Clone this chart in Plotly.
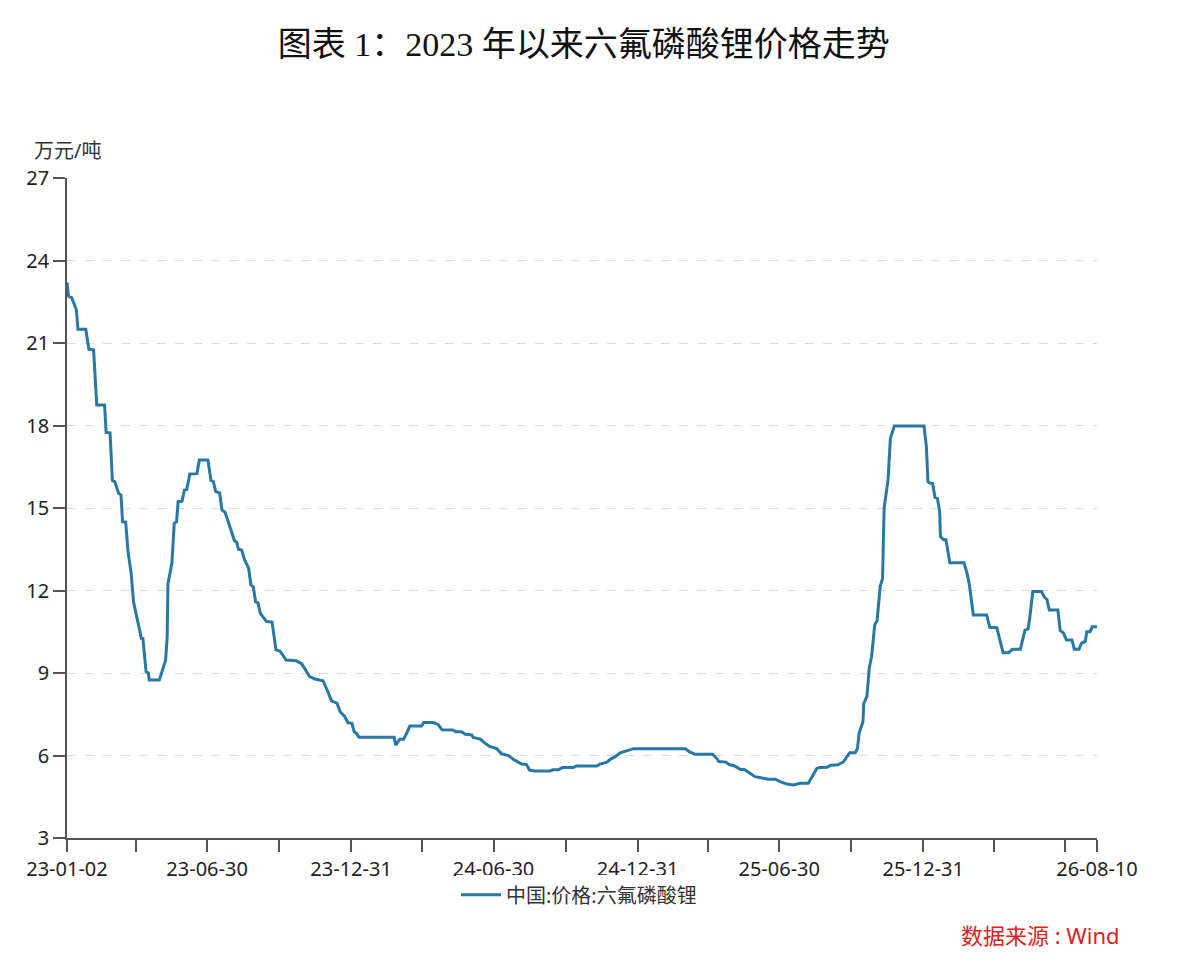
import plotly.graph_objects as go

# 中国:价格:六氟磷酸锂 (万元/吨)
dates = [
    "2023-01-02", "2023-01-04", "2023-01-08", "2023-01-12", "2023-01-14", "2023-01-16",
    "2023-01-26", "2023-01-30", "2023-02-05", "2023-02-09", "2023-02-19", "2023-02-21",
    "2023-02-26", "2023-03-01", "2023-03-04", "2023-03-09", "2023-03-12", "2023-03-14",
    "2023-03-18", "2023-03-21", "2023-03-25", "2023-03-28", "2023-04-02", "2023-04-07",
    "2023-04-09", "2023-04-13", "2023-04-16", "2023-04-17", "2023-04-30", "2023-05-04",
    "2023-05-08", "2023-05-10", "2023-05-11", "2023-05-16", "2023-05-19", "2023-05-22",
    "2023-05-24", "2023-05-29", "2023-06-01", "2023-06-04", "2023-06-08", "2023-06-17",
    "2023-06-20", "2023-07-01", "2023-07-05", "2023-07-08", "2023-07-11", "2023-07-16",
    "2023-07-19", "2023-07-23", "2023-07-27", "2023-07-31", "2023-08-04", "2023-08-07",
    "2023-08-09", "2023-08-13", "2023-08-17", "2023-08-22", "2023-08-25", "2023-08-28",
    "2023-08-31", "2023-09-03", "2023-09-06", "2023-09-14", "2023-09-21", "2023-09-26",
    "2023-10-01", "2023-10-09", "2023-10-22", "2023-10-29", "2023-11-08", "2023-11-15",
    "2023-11-25", "2023-11-30", "2023-12-06", "2023-12-13", "2023-12-17", "2023-12-23",
    "2023-12-27", "2024-01-01", "2024-01-04", "2024-01-07", "2024-01-10", "2024-02-24",
    "2024-02-26", "2024-03-02", "2024-03-07", "2024-03-11", "2024-03-15", "2024-03-30",
    "2024-04-02", "2024-04-14", "2024-04-20", "2024-04-25", "2024-05-09", "2024-05-13",
    "2024-05-20", "2024-05-25", "2024-06-02", "2024-06-04", "2024-06-13", "2024-06-19",
    "2024-06-25", "2024-07-04", "2024-07-10", "2024-07-19", "2024-07-27", "2024-08-05",
    "2024-08-11", "2024-08-15", "2024-08-21", "2024-09-10", "2024-09-14", "2024-09-21",
    "2024-09-26", "2024-10-10", "2024-10-14", "2024-11-09", "2024-11-13", "2024-11-22",
    "2024-11-26", "2024-12-02", "2024-12-09", "2024-12-17", "2024-12-26", "2025-03-02",
    "2025-03-07", "2025-03-14", "2025-04-06", "2025-04-12", "2025-04-14", "2025-04-23",
    "2025-04-27", "2025-05-04", "2025-05-11", "2025-05-17", "2025-05-24", "2025-05-30",
    "2025-06-08", "2025-06-16", "2025-06-25", "2025-07-01", "2025-07-10", "2025-07-18",
    "2025-07-27", "2025-08-06", "2025-08-11", "2025-08-17", "2025-08-21", "2025-08-30",
    "2025-09-04", "2025-09-13", "2025-09-20", "2025-09-24", "2025-09-28", "2025-10-05",
    "2025-10-08", "2025-10-10", "2025-10-15", "2025-10-16", "2025-10-20", "2025-10-23",
    "2025-10-26", "2025-10-30", "2025-11-02", "2025-11-06", "2025-11-09", "2025-11-11",
    "2025-11-14", "2025-11-16", "2025-11-19", "2025-11-24", "2026-01-01", "2026-01-04",
    "2026-01-06", "2026-01-09", "2026-01-12", "2026-01-15", "2026-01-18", "2026-01-21",
    "2026-01-22", "2026-01-26", "2026-01-29", "2026-02-03", "2026-02-21", "2026-02-25",
    "2026-02-28", "2026-03-05", "2026-03-22", "2026-03-26", "2026-04-04", "2026-04-12",
    "2026-04-19", "2026-04-24", "2026-05-04", "2026-05-10", "2026-05-14", "2026-05-16",
    "2026-05-20", "2026-05-31", "2026-06-04", "2026-06-07", "2026-06-10", "2026-06-21",
    "2026-06-24", "2026-06-28", "2026-07-02", "2026-07-09", "2026-07-12", "2026-07-18",
    "2026-07-21", "2026-07-26", "2026-07-28", "2026-08-01", "2026-08-04", "2026-08-10",
]
prices = [
    23.2, 22.7, 22.65, 22.3, 22.2, 21.5,
    21.5, 20.77, 20.75, 18.75, 18.75, 17.75,
    17.73, 16.0, 15.96, 15.53, 15.47, 14.5,
    14.49, 13.41, 12.62, 11.59, 10.93, 10.26,
    10.25, 9.05, 9.0, 8.75, 8.75, 9.11,
    9.47, 10.32, 12.26, 12.99, 14.44, 14.5,
    15.23, 15.25, 15.65, 15.67, 16.24, 16.25,
    16.75, 16.75, 16.0, 15.96, 15.6, 15.55,
    14.93, 14.84, 14.5, 14.2, 13.81, 13.75,
    13.5, 13.47, 13.11, 12.81, 12.2, 12.13,
    11.59, 11.55, 11.17, 10.87, 10.85, 9.84,
    9.8, 9.47, 9.45, 9.33, 8.87, 8.78,
    8.72, 8.41, 7.99, 7.9, 7.59, 7.41,
    7.19, 7.17, 6.86, 6.8, 6.66, 6.66,
    6.38, 6.59, 6.59, 6.81, 7.07, 7.07,
    7.2, 7.2, 7.13, 6.94, 6.93, 6.86,
    6.86, 6.77, 6.75, 6.66, 6.6, 6.45,
    6.33, 6.25, 6.07, 6.0, 5.83, 5.69,
    5.67, 5.47, 5.44, 5.44, 5.48, 5.48,
    5.56, 5.56, 5.62, 5.62, 5.69, 5.76,
    5.86, 5.95, 6.1, 6.17, 6.25, 6.25,
    6.14, 6.05, 6.05, 5.86, 5.78, 5.76,
    5.67, 5.62, 5.5, 5.48, 5.33, 5.23,
    5.18, 5.14, 5.14, 5.05, 4.96, 4.93,
    4.99, 4.99, 5.23, 5.53, 5.56, 5.57,
    5.65, 5.66, 5.77, 5.93, 6.1, 6.1,
    6.26, 6.81, 7.23, 7.9, 8.14, 9.17,
    9.6, 10.75, 10.9, 12.14, 12.44, 14.99,
    15.65, 16.02, 17.53, 17.98, 17.98, 17.23,
    15.96, 15.9, 15.89, 15.39, 15.36, 14.87,
    13.96, 13.85, 13.85, 13.01, 13.01, 12.62,
    12.2, 11.11, 11.11, 10.66, 10.65, 9.74,
    9.74, 9.86, 9.86, 10.56, 10.6, 10.99,
    11.96, 11.96, 11.75, 11.68, 11.29, 11.29,
    10.54, 10.46, 10.2, 10.2, 9.86, 9.86,
    10.08, 10.15, 10.5, 10.5, 10.68, 10.68,
]

# x ticks: quarterly marks, labels every half year plus the last date
tick_dates = [
    "2023-01-02", "2023-03-31", "2023-06-30", "2023-09-30", "2023-12-31",
    "2024-03-31", "2024-06-30", "2024-09-30", "2024-12-31", "2025-03-31",
    "2025-06-30", "2025-09-30", "2025-12-31", "2026-03-31", "2026-06-30", "2026-08-10",
]
tick_labels = [
    "23-01-02", "", "23-06-30", "", "23-12-31",
    "", "24-06-30", "", "24-12-31", "",
    "25-06-30", "", "25-12-31", "", "", "26-08-10",
]
y_ticks = [3, 6, 9, 12, 15, 18, 21, 24, 27]

LINE_COLOR = "#2878a6"
AXIS_COLOR = "#555555"
FONT = "Noto Sans, Noto Sans CJK SC, sans-serif"

fig = go.Figure()

fig.add_trace(go.Scatter(
    x=dates,
    y=prices,
    mode="lines",
    name="中国:价格:六氟磷酸锂",
    line=dict(color=LINE_COLOR, width=3),
))

# the page body adds an 8px offset, margins are set with that in mind
fig.update_layout(
    width=1180,
    height=963,
    margin=dict(l=59, r=91, t=170, b=133),
    paper_bgcolor="white",
    plot_bgcolor="white",
    font=dict(family=FONT, size=20, color="#222222"),
    title=dict(
        text="图表 1：2023 年以来六氟磷酸锂价格走势",
        x=0.488,
        xanchor="center",
        y=0.962,
        yanchor="middle",
        font=dict(family="Liberation Serif, Noto Sans CJK SC, serif", size=34, color="#111111"),
    ),
    showlegend=True,
    legend=dict(
        orientation="h",
        x=0.497,
        xanchor="center",
        y=-0.086,
        yanchor="middle",
        font=dict(size=20, color="#333333"),
        itemwidth=40,
    ),
)

fig.update_xaxes(
    type="date",
    range=["2023-01-02", "2026-08-10"],
    tickmode="array",
    tickvals=tick_dates,
    ticktext=tick_labels,
    ticks="outside",
    ticklen=12,
    tickwidth=1.5,
    tickcolor=AXIS_COLOR,
    showline=True,
    linecolor=AXIS_COLOR,
    linewidth=1.5,
    showgrid=False,
    zeroline=False,
    tickfont=dict(size=20, color="#222222"),
)

fig.update_yaxes(
    range=[3, 27],
    tickvals=y_ticks,
    ticks="outside",
    ticklen=12,
    tickwidth=1.5,
    tickcolor=AXIS_COLOR,
    showline=True,
    linecolor=AXIS_COLOR,
    linewidth=1.5,
    showgrid=True,
    gridcolor="#dddddd",
    griddash="dash",
    gridwidth=1,
    zeroline=False,
    tickfont=dict(size=20, color="#222222"),
)

# unit label above the y axis
fig.add_annotation(
    text="万元/吨",
    xref="paper", yref="paper",
    x=-0.034, y=1.042,
    xanchor="left", yanchor="middle",
    showarrow=False,
    font=dict(size=20, color="#333333"),
)

# data source
fig.add_annotation(
    text="数据来源 : Wind",
    xref="paper", yref="paper",
    x=1.024, y=-0.147,
    xanchor="right", yanchor="middle",
    showarrow=False,
    font=dict(size=22, color="#e02020"),
)

fig.write_html("out.html")
